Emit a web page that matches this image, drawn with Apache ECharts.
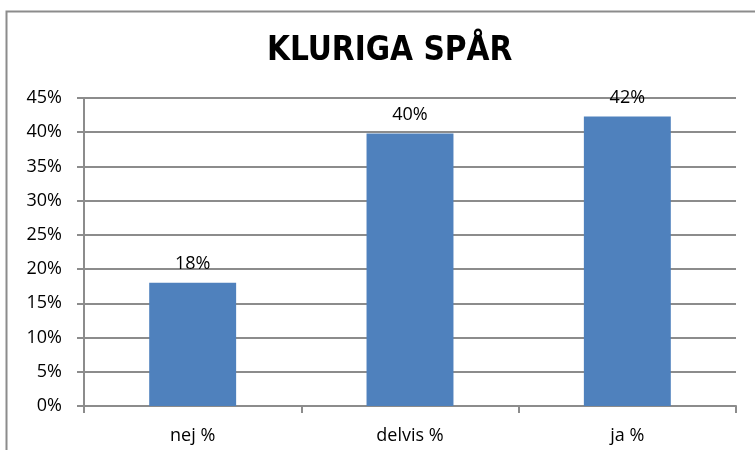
<html>
<head>
<meta charset="utf-8">
<style>
  html, body { margin: 0; padding: 0; background: #fff; }
  #chart1 { width: 755px; height: 450px; }
</style>
</head>
<body>
<div id="chart1"></div>
<script src="https://cdn.jsdelivr.net/npm/echarts@6/dist/echarts.min.js"></script>
<script>
  // data
  let categories = ['nej %', 'delvis %', 'ja %'];
  let values = [0.18, 0.398, 0.423];
  let title = 'KLURIGA SPÅR';

  let font = '"Open Sans", "Liberation Sans", sans-serif';

  function pct(v) {
    return Math.round(v * 100) + '%';
  }

  let myChart = echarts.init(document.getElementById('chart1'));
  let option = {
    animation: false,
    backgroundColor: '#fff',
    title: {
      text: title,
      left: 262,
      top: 30,
      textStyle: {
        fontFamily: '"DejaVu Sans Condensed", "DejaVu Sans", sans-serif',
        fontWeight: 'bold',
        fontSize: 33,
        color: '#000'
      }
    },
    graphic: [{
      type: 'rect',
      shape: { x: 6.5, y: 11.5, width: 800, height: 500 },
      style: { fill: 'none', stroke: '#8c8c8c', lineWidth: 2 },
      silent: true
    }],
    grid: { left: 84, right: 19, top: 98, bottom: 44 },
    xAxis: {
      type: 'category',
      data: categories,
      axisLine: { lineStyle: { color: '#8c8c8c', width: 2 } },
      axisTick: { show: true, length: 7, alignWithLabel: false, lineStyle: { color: '#8c8c8c', width: 2 } },
      axisLabel: { margin: 21, fontSize: 18, color: '#000', fontFamily: font }
    },
    yAxis: {
      type: 'value',
      min: 0,
      max: 0.45,
      interval: 0.05,
      axisLine: { show: true, lineStyle: { color: '#8c8c8c', width: 2 } },
      axisTick: { show: true, length: 7, lineStyle: { color: '#8c8c8c', width: 2 } },
      splitLine: { lineStyle: { color: '#8c8c8c', width: 2 } },
      axisLabel: {
        margin: 22,
        fontSize: 18,
        color: '#000',
        fontFamily: font,
        formatter: function (v) { return pct(v); }
      }
    },
    series: [{
      type: 'bar',
      data: values,
      barWidth: '40%',
      itemStyle: { color: '#4f81bd' },
      label: {
        show: true,
        position: 'top',
        distance: 10,
        fontSize: 18,
        color: '#000',
        fontFamily: font,
        formatter: function (p) { return pct(p.value); }
      }
    }]
  };
  myChart.setOption(option);
</script>
</body>
</html>
